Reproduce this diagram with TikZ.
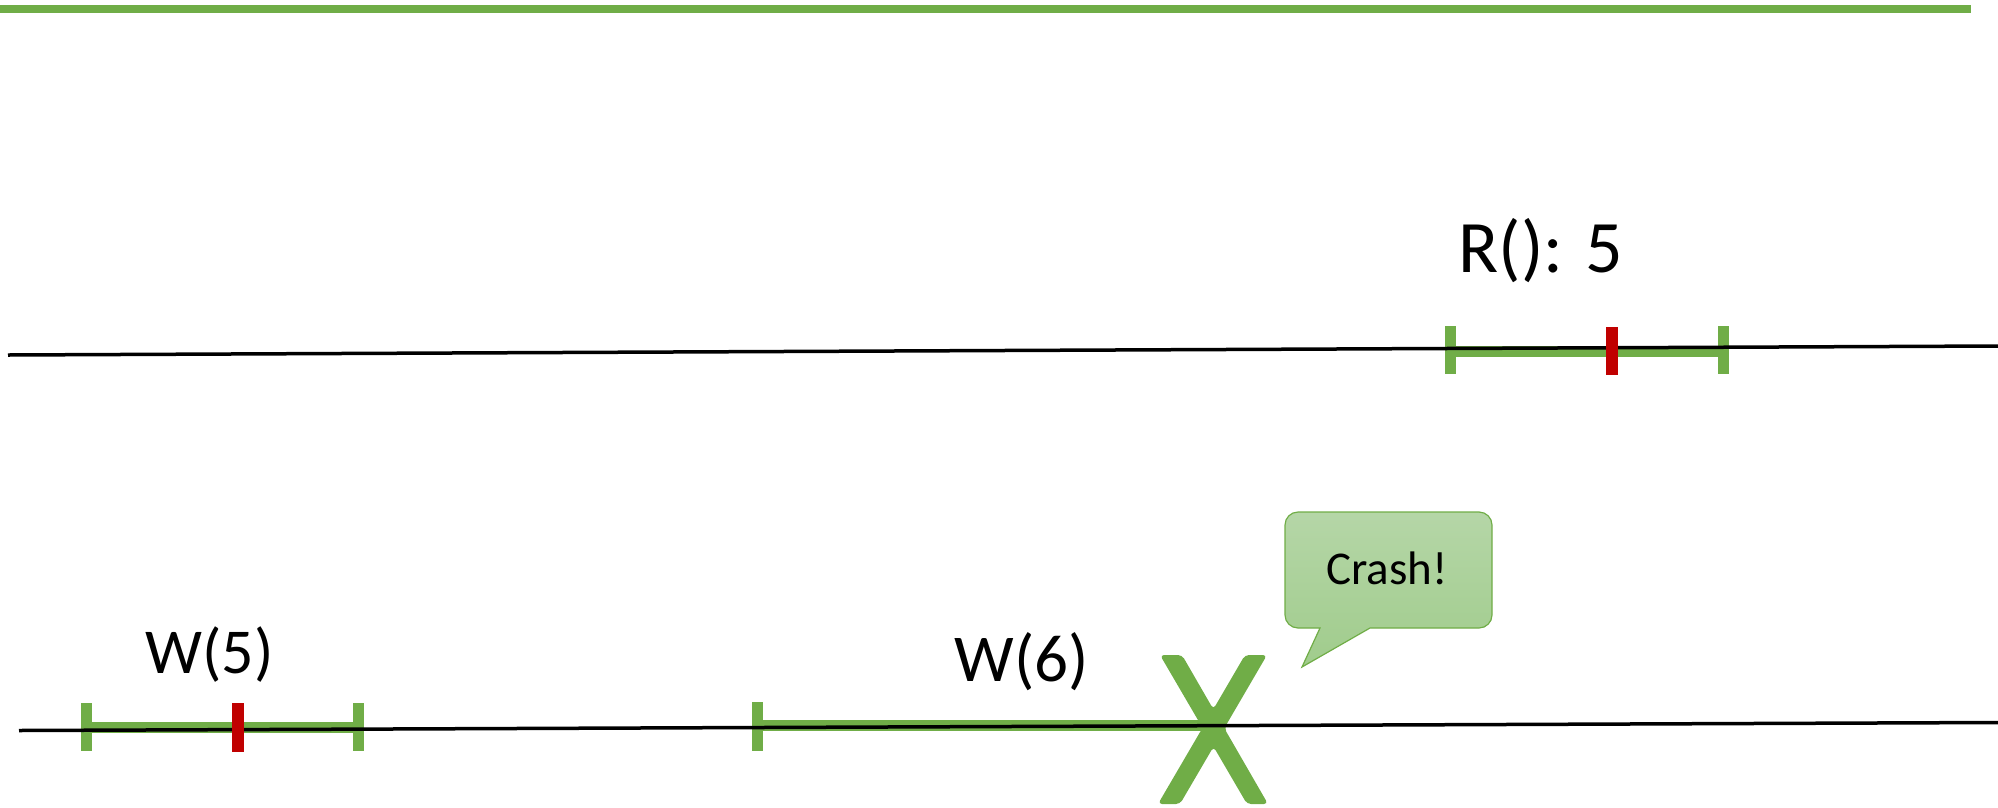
\documentclass[tikz,border=0pt]{standalone}
\usepackage{fontspec}
\setmainfont{Carlito}
\definecolor{opgreen}{HTML}{70AD47}
\definecolor{opred}{HTML}{C00000}
\definecolor{bubtop}{HTML}{B5D6A7}
\definecolor{bubbot}{HTML}{A0CC8C}
\begin{document}
\begin{tikzpicture}[x=1pt,y=-1pt,
  timeline/.style={line width=3.5pt, black},
  spanbar/.style={line width=11pt, opgreen},
  gtick/.style={line width=11pt, opgreen},
  rtick/.style={line width=11.5pt, opred},
  lbl/.style={inner sep=0pt, anchor=base, text=black}]
\useasboundingbox (0,0) rectangle (1998,807);

% green rule along the top
\draw[opgreen, line width=7.5pt] (0,9) -- (1971,9);

% timeline end points
\coordinate (t1a) at (8,355);
\coordinate (t1b) at (1998,346);
\coordinate (t2a) at (19,730.5);
\coordinate (t2b) at (1998,722.5);

% read interval on the upper timeline
\draw[spanbar] (1450.5,351.5) -- (1723.5,351.5);
\draw[gtick] (1450.5,326) -- (1450.5,374);
\draw[gtick] (1723.5,326) -- (1723.5,374);
\node[lbl, font=\fontsize{74}{80}\selectfont] (rlabel) at (1541,272) {R(): 5};

% first write interval on the lower timeline
\draw[spanbar] (86.5,727.5) -- (358.5,727.5);
\draw[gtick] (86.5,703) -- (86.5,751);
\draw[gtick] (358.5,703) -- (358.5,751);
\node[lbl, font=\fontsize{64}{70}\selectfont] (w5label) at (209.5,673) {W(5)};

% second write, cut short by the crash
\draw[spanbar] (757.5,725) -- (1205,725);
\draw[gtick] (757.5,702) -- (757.5,751);
\node[lbl, font=\fontsize{67}{72}\selectfont] (w6label) at (1022,681) {W(6)};

% big cross marking the crash: two crossing strokes
\coordinate (a1) at (1160,655); \coordinate (a2) at (1182,655);
\coordinate (a3) at (1268,804); \coordinate (a4) at (1247,804);
\coordinate (b1) at (1245,655); \coordinate (b2) at (1267,655);
\coordinate (b3) at (1180,804); \coordinate (b4) at (1158,804);
\fill[opgreen, rounded corners=4pt]
  (a1) -- (a2) -- (intersection of a2--a3 and b1--b4)
  -- (b1) -- (b2) -- (intersection of b2--b3 and a2--a3)
  -- (a3) -- (a4) -- (intersection of a1--a4 and b2--b3)
  -- (b3) -- (b4) -- (intersection of b1--b4 and a1--a4) -- cycle;

% the two timelines
\draw[timeline] (t1a) -- (t1b);
\draw[timeline] (t2a) -- (t2b);

% linearization points
\draw[rtick] (1612,327) -- (1612,375);
\draw[rtick] (238,703) -- (238,752);

% speech bubble
\path[draw=opgreen, line width=1.2pt, top color=bubtop, bottom color=bubbot]
  (1298,512) -- (1479,512) arc[start angle=-90, end angle=0, radius=13]
  -- (1492,615) arc[start angle=0, end angle=90, radius=13]
  -- (1370,628) -- (1302,667) -- (1320,628) -- (1298,628)
  arc[start angle=90, end angle=180, radius=13]
  -- (1285,525) arc[start angle=180, end angle=270, radius=13] -- cycle;
\node[lbl, font=\fontsize{47}{50}\selectfont] (crash) at (1387,584) {Crash!};
\end{tikzpicture}
\end{document}
